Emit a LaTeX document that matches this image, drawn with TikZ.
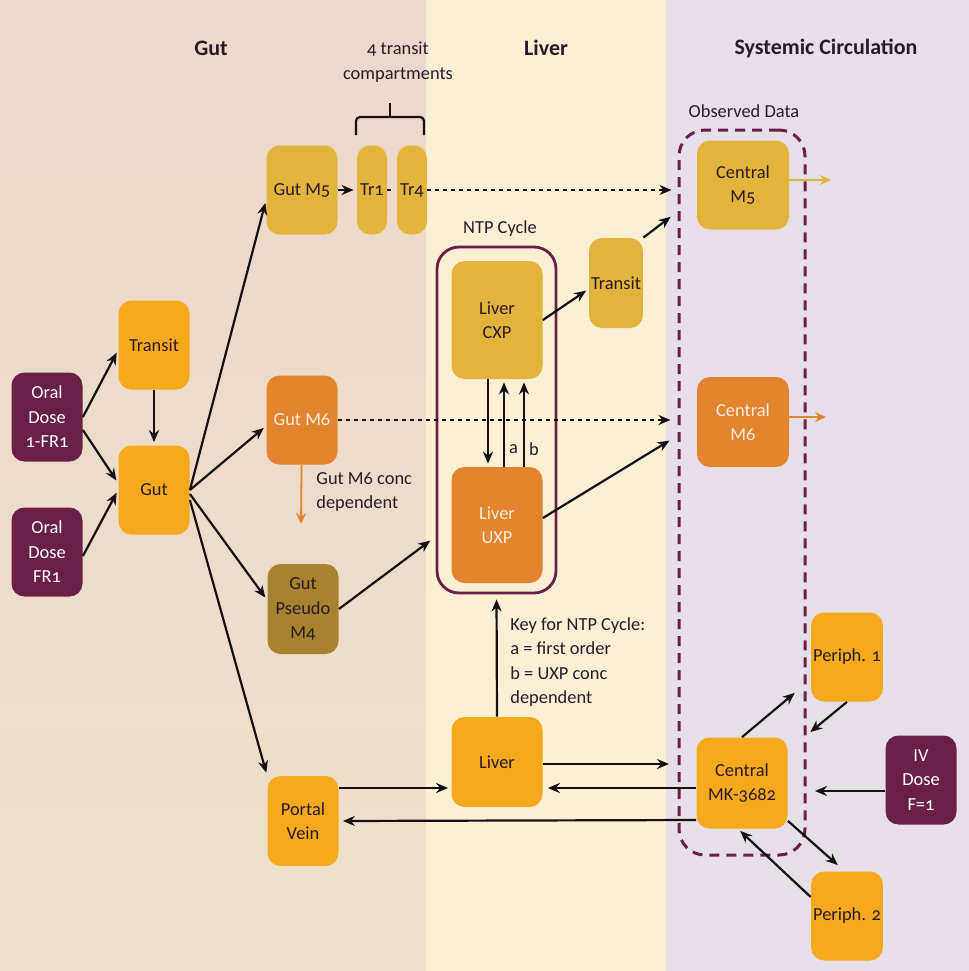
\documentclass[tikz,border=0pt]{standalone}
\usepackage{fontspec}
\setmainfont{Carlito}[Numbers=OldStyle]
\usetikzlibrary{arrows.meta}
\usetikzlibrary{positioning}
\definecolor{plum}{HTML}{6A1F47}
\definecolor{amber}{HTML}{F6A91C}
\definecolor{mustard}{HTML}{E2B43B}
\definecolor{tangerine}{HTML}{E3842F}
\definecolor{ochre}{HTML}{A8832F}
\definecolor{ink}{HTML}{2A1A27}
\definecolor{wire}{HTML}{141014}
\definecolor{paleink}{HTML}{FBEDE0}
\definecolor{gutbgtop}{HTML}{EED7CB}
\definecolor{gutbgbot}{HTML}{EEE0C9}
\definecolor{liverbg}{HTML}{FCF0D4}
\definecolor{sysbg}{HTML}{E6DFE8}
\tikzset{box/.style = {rounded corners = 6.5pt, align = center, inner sep = 1pt, minimum width = 35.5pt, minimum height = 44.5pt, text = ink, font = \fontsize{9.2}{12.2}\selectfont}}
\tikzset{dosebox/.style = {box, fill = plum, text = white}}
\tikzset{ambbox/.style = {box, fill = amber}}
\tikzset{musbox/.style = {box, fill = mustard}}
\tikzset{tanbox/.style = {box, fill = tangerine, text = paleink}}
\tikzset{ochbox/.style = {box, fill = ochre}}
\tikzset{flow/.style = {-{Stealth[length = 6pt, width = 5pt]}, line width = 1.1pt, draw = wire, shorten > = 1.5pt}}
\tikzset{dots/.style = {flow, line width = 1.4pt, dash pattern = on 2pt off 2pt}}
\tikzset{outflow/.style = {-{Stealth[length = 5.5pt, width = 5pt]}, line width = 0.9pt}}
\tikzset{title/.style = {font = \fontsize{11}{14}\selectfont\bfseries, text = ink}}
\tikzset{note/.style = {font = \fontsize{9.2}{12.2}\selectfont, text = ink, align = left, inner sep = 1pt}}

\begin{document}
\begin{tikzpicture}[x = 0.5pt, y = -0.5pt]
    \useasboundingbox (0, 0) rectangle (969, 971);
    \shade [top color = gutbgtop, bottom color = gutbgbot] (0, 0) rectangle (426, 971);
    \fill [liverbg] (426, 0) rectangle (666, 971);
    \fill [sysbg] (666, 0) rectangle (969, 971);

    \node [title] (gutT) at (211, 48) {Gut};
    \node [title] (liverT) at (546, 48) {Liver};
    \node [title] (sysT) at (826, 48) {Systemic Circulation};
    \node [note, align = center] (trT) at (398, 62) {4 transit\\compartments};
    \node [note] (obsT) at (744, 111) {Observed Data};
    \node [note] (ntpT) at (500, 229) {NTP Cycle};

    \node [draw = plum, line width = 1.4pt, rounded corners = 11pt, minimum width = 59.5pt, minimum height = 173pt] (ntp) at (496.5, 420) {};
    \node [draw = plum, line width = 1.5pt, dash pattern = on 5pt off 3.5pt, rounded corners = 13pt, minimum width = 63pt, minimum height = 362.5pt] (obs) at (742, 492.5) {};

    \node [dosebox] (oralA) at (47, 417) {Oral\\Dose\\1-FR1};
    \node [dosebox] (oralB) at (47, 552) {Oral\\Dose\\FR1};
    \node [ambbox] (transitG) at (154, 345) {Transit};
    \node [ambbox] (gut) at (154, 490) {Gut};
    \node [musbox] (gutMfive) at (302, 190) {Gut M5};
    \node [musbox, minimum width = 15pt] (trOne) at (372, 190) {Tr1};
    \node [musbox, minimum width = 15pt] (trFour) at (412, 190) {Tr4};
    \node [tanbox] (gutMsix) at (302, 420) {Gut M6};
    \node [ochbox, minimum height = 45pt] (pseudo) at (303, 609) {Gut\\Pseudo\\M4};
    \node [ambbox, minimum height = 45pt] (portal) at (303, 821) {Portal\\Vein};

    \node [musbox, minimum width = 45.5pt, minimum height = 59pt] (cxp) at (497, 320) {Liver\\CXP};
    \node [tanbox, minimum width = 45.5pt, minimum height = 58pt] (uxp) at (497, 525) {Liver\\UXP};
    \node [musbox, minimum width = 26.5pt, minimum height = 45pt] (transitL) at (616, 283) {Transit};
    \node [ambbox, minimum width = 45.5pt, minimum height = 45pt] (liverB) at (497, 762) {Liver};

    \node [musbox, minimum width = 46pt] (centralFive) at (743, 185) {Central\\M5};
    \node [tanbox, minimum width = 46pt, minimum height = 45pt] (centralSix) at (743, 422) {Central\\M6};
    \node [ambbox, minimum width = 45.5pt, minimum height = 45.5pt] (centralMK) at (742, 783) {Central\\MK-3682};
    \node [ambbox] (periphOne) at (847, 657) {Periph. 1};
    \node [ambbox] (periphTwo) at (847, 916) {Periph. 2};
    \node [dosebox] (ivDose) at (921, 780) {IV\\Dose\\F=1};

    \node [note, anchor = west] (sixNote) at (314, 492) {Gut M6 conc\\dependent};
    \node [note, anchor = west] (keyNote) at (508, 662) {Key for NTP Cycle:\\a = first order\\b = UXP conc\\dependent};

    \coordinate (sixsink) at (301, 524);
    \coordinate (fivein) at (673, 215);
    \coordinate (sixin) at (672, 439);
    \coordinate (mkin) at (672, 764);
    \coordinate (ponein) at (797, 691);
    \coordinate (poneout) at (808, 734);
    \coordinate (ivin) at (812, 791);
    \coordinate (ptwoin) at (840, 867);
    \coordinate (fiveout) at (831, 180);
    \coordinate (sixout) at (826, 417);

    % brace over the transit compartments
    \draw [line width = 1.1pt, draw = wire, rounded corners = 2pt] (356, 135) -- (356, 117) -- (424, 117) -- (424, 135);
    \draw [line width = 1.1pt, draw = wire] (390, 117) -- (390, 103);

    \draw [flow] (oralA.east) -- ([yshift = -2.5pt]transitG.west);
    \draw [flow] ([yshift = -6.5pt]oralA.east) -- ([yshift = 3.5pt]gut.west);
    \draw [flow] ([yshift = -2pt]oralB.east) -- (gut.west);
    \draw [flow] (transitG) -- (gut);

    \draw [flow] (gut.east) -- ([yshift = -5pt]gutMfive.west);
    \draw [flow] (gut.east) -- ([yshift = -3pt]gutMsix.west);
    \draw [flow] ([yshift = -2pt]gut.east) -- ([yshift = 4.5pt]pseudo.west);
    \draw [flow] ([yshift = -5pt]gut.east) -- (portal.north west);

    \draw [flow] (gutMfive) -- (trOne);
    \draw [dots, -] (trOne) -- (trFour);
    \draw [dots, shorten > = 3pt] (trFour) -- (obs.west |- trFour);
    \draw [dots, shorten > = 3.5pt] (gutMsix) -- (obs.west |- gutMsix);
    \draw [outflow, tangerine] (gutMsix) -- (sixsink);

    \draw [flow, shorten > = 13pt] (pseudo.east) -- (uxp.west);
    \draw [flow] (cxp.east) -- ([yshift = -3pt]transitL.west);
    \draw [flow] (transitL.north east) -- (fivein);
    \draw [flow] ([yshift = 3.5pt]uxp.east) -- (sixin);

    \draw [flow] ([xshift = -4.5pt]cxp.south) -- ([xshift = -4.5pt]uxp.north);
    \draw [flow] ([xshift = 3.5pt]uxp.north) -- ([xshift = 3.5pt]cxp.south) node [note, pos = 0.2, right = 1pt] (aLab) {a};
    \draw [flow] ([xshift = 13.5pt]uxp.north) -- ([xshift = 13.5pt]cxp.south) node [note, pos = 0.2, right = 1pt] (bLab) {b};
    \draw [flow, shorten > = 2.5pt] (liverB.north) -- (ntp.south);

    \draw [flow] ([yshift = 16.5pt]portal.east) -- ([yshift = -13pt]liverB.west);
    \draw [flow] ([yshift = -1pt]liverB.east) -- (mkin);
    \draw [flow, shorten > = 2.5pt] ([yshift = -2.5pt]centralMK.west) -- ([yshift = -13pt]liverB.east);
    \draw [flow, shorten > = 2pt] ([yshift = -18.5pt]centralMK.west) -- (portal.east);

    \draw [flow] (centralMK.north) -- (ponein);
    \draw [flow] (periphOne.south) -- (poneout);
    \draw [flow] ([yshift = -5.5pt]ivDose.west) -- (ivin);
    \draw [flow] ([yshift = 4pt]centralMK.south east) -- (ptwoin);
    \draw [flow] ([yshift = 9.5pt]periphTwo.west) -- ([xshift = -2pt]centralMK.south);

    \draw [outflow, mustard] ([yshift = 2.5pt]centralFive.east) -- (fiveout);
    \draw [outflow, tangerine] ([yshift = 2.5pt]centralSix.east) -- (sixout);
\end{tikzpicture}
\end{document}
